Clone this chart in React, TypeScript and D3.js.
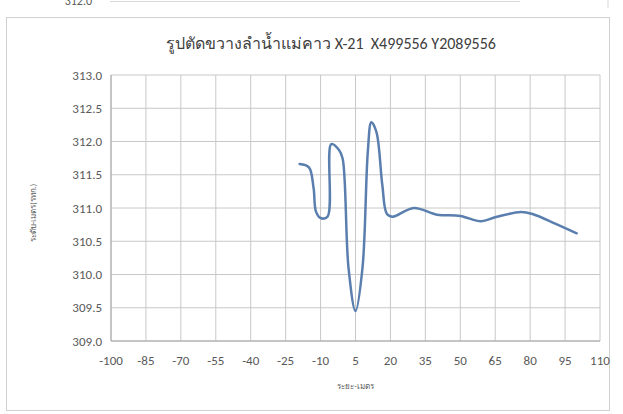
import React from "react";
import * as d3 from "d3";

const distances = [-19, -15, -13, -12, -10, -7, -5.4, -2, -0.5, 2, 5, 8, 10.3, 11.8, 14, 16.5, 18.5, 21, 30, 40, 50, 59, 65, 76, 81, 91, 100];
const levels = [311.66, 311.61, 311.3, 310.95, 310.85, 310.87, 311.96, 311.87, 311.74, 310.1, 309.45, 310.1, 311.85, 312.29, 312.14, 311.35, 310.91, 310.87, 311.0, 310.9, 310.88, 310.8, 310.86, 310.94, 310.91, 310.76, 310.62];
const xTicks = [-100, -85, -70, -55, -40, -25, -10, 5, 20, 35, 50, 65, 80, 95, 110];
const yTicks = [309, 309.5, 310, 310.5, 311, 311.5, 312, 312.5, 313];
const title = "รูปตัดขวางลำน้ำแม่คาว X-21  X499556 Y2089556";
const xTitle = "ระยะ-เมตร";
const yTitle = "ระดับ-เมตร(รทก.)";
const remnantLabel = "312.0";

const W = 623, H = 414;
const left = 111, right = 600, top = 75, bottom = 341;
const font = "Calibri, Carlito, 'Open Sans', 'Liberation Sans', sans-serif";

export default function App() {
  const x = d3.scaleLinear().domain([-100, 110]).range([left, right]);
  const y = d3.scaleLinear().domain([309, 313]).range([bottom, top]);
  const pts: [number, number][] = distances.map((d, i) => [d, levels[i]]);
  const line = d3.line<[number, number]>().x(d => x(d[0])).y(d => y(d[1])).curve(d3.curveCatmullRom.alpha(0.5));
  return (
    <svg width={W} height={H} style={{ position: "absolute", left: 0, top: 0, background: "#fff" }}>
      {/* remnant of previous chart at top */}
      <text x={92} y={5} textAnchor="end" fontFamily={font} fontSize={12} fill="#595959">{remnantLabel}</text>
      <line x1={110} x2={520} y1={1.5} y2={1.5} stroke="#d9d9d9" />
      <line x1={608} x2={608} y1={0} y2={8} stroke="#d9d9d9" />
      {/* chart frame */}
      <rect x={6.5} y={17.5} width={603} height={393} fill="#fff" stroke="#d0d0d0" />
      <text x={331} y={49} textAnchor="middle" fontFamily={font} fontSize={16} fill="#404040" style={{ whiteSpace: "pre" }}>{title}</text>
      {/* grid */}
      {yTicks.map(t => (
        <line key={"gy" + t} x1={left} x2={right} y1={y(t)} y2={y(t)} stroke="#c8c8c8" />
      ))}
      {xTicks.map(t => (
        <line key={"gx" + t} x1={x(t)} x2={x(t)} y1={top} y2={bottom} stroke="#c8c8c8" />
      ))}
      <line x1={left} x2={right} y1={bottom} y2={bottom} stroke="#a6a6a6" />
      <line x1={left} x2={left} y1={top} y2={bottom} stroke="#a6a6a6" />
      {yTicks.map(t => (
        <text key={"ty" + t} x={left - 9} y={y(t) + 4.5} textAnchor="end" fontFamily={font} fontSize={13} fill="#595959">{t.toFixed(1)}</text>
      ))}
      {xTicks.map(t => (
        <text key={"tx" + t} x={x(t)} y={bottom + 24} textAnchor="middle" fontFamily={font} fontSize={13} fill="#595959">{t}</text>
      ))}
      <text x={(left + right) / 2} y={389} textAnchor="middle" fontFamily={font} fontSize={8} fill="#595959">{xTitle}</text>
      <text transform={`translate(36,${(top + bottom) / 2 + 5}) rotate(-90)`} textAnchor="middle" fontFamily={font} fontSize={8} fill="#595959">{yTitle}</text>
      <path d={line(pts) || ""} fill="none" stroke="#5a7fae" strokeWidth={2.5} strokeLinejoin="round" strokeLinecap="round" />
    </svg>
  );
}
